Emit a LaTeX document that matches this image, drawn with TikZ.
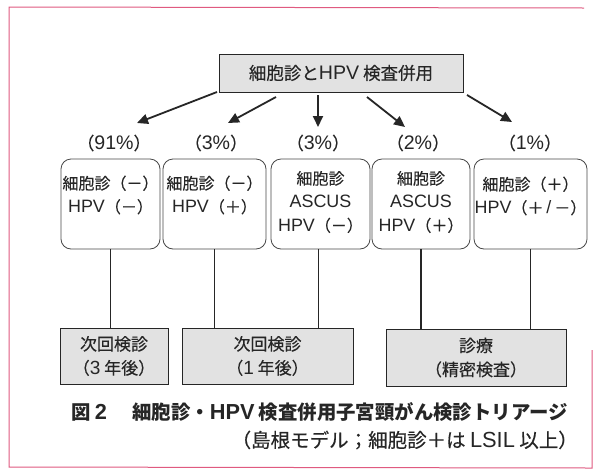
\documentclass[tikz,border=0pt]{standalone}
\usepackage{fontspec}
\setmainfont{Noto Sans CJK JP}[UprightFeatures={FakeBold=0.35}]
\newfontfamily\lat{Liberation Sans}[Scale=1.12]
\usetikzlibrary{arrows.meta,calc}
\definecolor{ink}{HTML}{262626}
\definecolor{boxfill}{HTML}{E2E2E2}
\definecolor{pinkline}{HTML}{E05A80}
\begin{document}
\begin{tikzpicture}[x=1pt,y=-1pt,
  txt/.style={text=ink, inner sep=0pt, font=\fontsize{16}{23.5}\selectfont, align=center},
  pct/.style={text=ink, inner sep=0pt, font=\fontsize{17.5}{20}\selectfont},
  graybox/.style={draw=ink, fill=boxfill, line width=0.8pt, inner sep=0pt, text=ink, align=center, font=\fontsize{17}{24}\selectfont},
  roundbox/.style={draw=ink!85, line width=0.8pt, rounded corners=10pt, inner sep=0pt},
  conn/.style={draw=ink, line width=1.2pt},
  arr/.style={draw=ink, line width=1.8pt, -{Triangle[length=11pt,width=10pt]}},
]
\useasboundingbox (0,0) rectangle (596,472);
\fill[white] (0,0) rectangle (596,472);
% pink frame
\draw[pinkline, line width=1pt] (584,8) -- (9,7) -- (9,467) -- (592,468) -- (592,350);

% top box
\node[graybox, minimum width=244pt, minimum height=38pt, font=\fontsize{17.5}{20}\selectfont] (top) at (341,73) {細胞診と{\lat HPV} 検査併用};

% percentages
\node[pct] (p1) at (114,143) {（{\lat 91\%}）};
\node[pct] (p2) at (216,143) {（{\lat 3\%}）};
\node[pct] (p3) at (318,143) {（{\lat 3\%}）};
\node[pct] (p4) at (418,143) {（{\lat 2\%}）};
\node[pct] (p5) at (530,143) {（{\lat 1\%}）};

% arrows
\coordinate (s1) at (217,92);  \coordinate (e1) at (137,123);
\coordinate (s2) at (276,97);  \coordinate (e2) at (228,123);
\coordinate (s3) at (318,95);  \coordinate (e3) at (318,127);
\coordinate (s4) at (367,97);  \coordinate (e4) at (405,127);
\coordinate (s5) at (467,95);  \coordinate (e5) at (512,122);
\foreach \i in {1,...,5} { \draw[arr] (s\i) -- (e\i); }

% rounded boxes
\node[roundbox, minimum width=99pt,  minimum height=90pt] (b1) at (110.5,204) {};
\node[roundbox, minimum width=103pt, minimum height=90pt] (b2) at (214.5,204) {};
\node[roundbox, minimum width=99pt,  minimum height=90pt] (b3) at (320.5,204) {};
\node[roundbox, minimum width=98pt,  minimum height=90pt] (b4) at (421,204) {};
\node[roundbox, minimum width=113pt, minimum height=90pt] (b5) at (530.5,204) {};

\node[txt] (t1) at (110.5,195) {細胞診（－）\\{\lat HPV}（－）};
\node[txt] (t2) at (214.5,195) {細胞診（－）\\{\lat HPV}（＋）};
\node[txt] (t3) at (320.5,202) {細胞診\\{\lat ASCUS}\\{\lat HPV}（－）};
\node[txt] (t4) at (421,202) {細胞診\\{\lat ASCUS}\\{\lat HPV}（＋）};
\node[txt] (t5) at (530.5,196) {細胞診（＋）\\{\lat HPV}（＋{\lat\,/\,}－）};

% lower boxes
\node[graybox, minimum width=108pt, minimum height=56pt] (A) at (114,356) {次回検診\\（{\lat 3} 年後）};
\node[graybox, minimum width=171pt, minimum height=56pt] (B) at (267.5,356) {次回検診\\（{\lat 1} 年後）};
\node[graybox, minimum width=180pt, minimum height=57pt] (C) at (476,357.5) {診療\\（精密検査）};

% connectors
\draw[conn] (b1.south) -- (b1.south |- A.north);
\draw[conn] (b2.south) -- (b2.south |- B.north);
\draw[conn] ($(b3.south)+(-2,0)$) -- ($(b3.south |- B.north)+(-2,0)$);
\draw[conn] (b4.south) -- (b4.south |- C.north);
\draw[conn] (b5.south) -- (b5.south |- C.north);

% caption
\node[txt, anchor=east, font=\fontsize{19.4}{20}\selectfont\bfseries] (cap1) at (568,412) {図 {\lat 2}\hspace{1.3em}細胞診・{\lat HPV} 検査併用子宮頸がん検診トリアージ};
\node[txt, anchor=east, font=\fontsize{19.5}{20}\selectfont] (cap2) at (578,440) {（島根モデル；細胞診＋は {\lat LSIL} 以上）};
\end{tikzpicture}
\end{document}
